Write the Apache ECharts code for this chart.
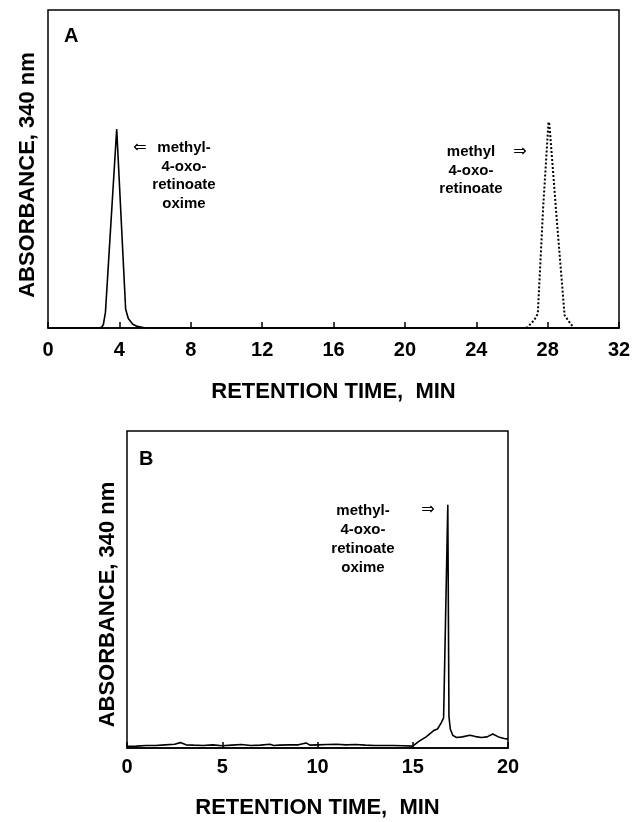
<!DOCTYPE html>
<html>
<head>
<meta charset="utf-8">
<script src="https://cdn.jsdelivr.net/npm/echarts@6/dist/echarts.min.js"></script>
<style>
html,body{margin:0;padding:0;background:#fff;}
#chart{width:636px;height:822px;}
</style>
</head>
<body>
<div id="chart"></div>
<script>
// Panel A: methyl-4-oxo-retinoate oxime (solid) and methyl 4-oxo-retinoate (dotted)
const timeA1 = [0, 1, 2, 2.8, 3.0, 3.1, 3.22, 3.85, 4.35, 4.5, 4.75, 5.0, 5.4, 6, 10, 20, 32];
const absA1  = [0, 0, 0, 0, 0.002, 0.01, 0.05, 0.626, 0.06, 0.03, 0.012, 0.005, 0.001, 0, 0, 0, 0];
const timeA2 = [26.8, 27.0, 27.25, 27.45, 27.75, 28.05, 28.1, 28.5, 28.95, 29.2, 29.4];
const absA2  = [0, 0.01, 0.025, 0.045, 0.38, 0.648, 0.64, 0.35, 0.04, 0.02, 0.005];
// Panel B
const timeB = [0,0.5,1,1.5,2,2.5,2.8,3.1,3.5,4,4.5,5,5.5,6,6.5,7,7.5,7.7,8,8.5,9,9.4,9.6,10,10.5,11,11.5,12,12.5,13,13.5,14,14.5,15,15.3,15.7,16.1,16.3,16.5,16.62,16.84,16.9,16.97,17.1,17.3,17.6,18.0,18.3,18.6,18.9,19.2,19.5,19.8,20];
const absB  = [0.005,0.006,0.008,0.008,0.01,0.012,0.017,0.01,0.009,0.008,0.01,0.007,0.009,0.011,0.008,0.009,0.012,0.008,0.009,0.01,0.01,0.016,0.009,0.01,0.011,0.012,0.01,0.011,0.009,0.008,0.008,0.008,0.007,0.006,0.02,0.035,0.055,0.06,0.08,0.095,0.767,0.1,0.06,0.04,0.033,0.035,0.04,0.036,0.033,0.035,0.044,0.035,0.03,0.028];

const xTitle = 'RETENTION TIME,  MIN';
const yTitle = 'ABSORBANCE, 340 nm';

const FONT = '"Liberation Sans", Arial, Helvetica, sans-serif';
const zip = (a, b) => a.map((v, i) => [v, b[i]]);

const chart = echarts.init(document.getElementById('chart'), null, {renderer: 'canvas'});

function xAxisCfg(gridIndex, max, interval, margin, nameGap) {
  return {
    type: 'value', gridIndex, min: 0, max, interval,
    name: xTitle, nameLocation: 'middle', nameGap,
    nameTextStyle: {fontFamily: FONT, fontWeight: 'bold', fontSize: 22, color: '#000'},
    axisLine: {show: true, onZero: false, lineStyle: {color: '#000', width: 1.5}},
    axisTick: {show: true, inside: true, length: 6, lineStyle: {color: '#000', width: 1.5}},
    axisLabel: {fontFamily: FONT, fontWeight: 'bold', fontSize: 20, color: '#000', margin},
    splitLine: {show: false}
  };
}
function yAxisCfg(gridIndex, nameGap, pad) {
  return {
    type: 'value', gridIndex, min: 0, max: 1,
    name: yTitle, nameLocation: 'middle', nameGap, nameRotate: 90,
    nameTextStyle: {fontFamily: FONT, fontWeight: 'bold', fontSize: 22, color: '#000', padding: pad},
    axisLine: {show: false}, axisTick: {show: false}, axisLabel: {show: false},
    splitLine: {show: false}
  };
}

const ARROW_FONT = '"DejaVu Sans", sans-serif';

const option = {
  backgroundColor: '#fff',
  animation: false,
  grid: [
    {left: 48, top: 10, width: 571, height: 318, show: true, borderColor: '#000', borderWidth: 1.5},
    {left: 127, top: 431, width: 381, height: 317, show: true, borderColor: '#000', borderWidth: 1.5}
  ],
  xAxis: [xAxisCfg(0, 32, 4, 12, 53), xAxisCfg(1, 20, 5, 9, 49)],
  yAxis: [yAxisCfg(0, 9, [0, 12, 0, 0]), yAxisCfg(1, 8, [0, 30, 0, 0])],
  series: [
    {type: 'line', xAxisIndex: 0, yAxisIndex: 0, data: zip(timeA1, absA1), showSymbol: false,
     lineStyle: {color: '#000', width: 1.6}},
    {type: 'line', xAxisIndex: 0, yAxisIndex: 0, data: zip(timeA2, absA2), showSymbol: false,
     lineStyle: {color: '#000', width: 2, type: 'dotted'}},
    {type: 'line', xAxisIndex: 1, yAxisIndex: 1, data: zip(timeB, absB), showSymbol: false,
     lineStyle: {color: '#000', width: 1.6}}
  ],
  graphic: [
    {type: 'text', left: 64, top: 26, style: {text: 'A', fontFamily: FONT, fontWeight: 'bold', fontSize: 20, fill: '#000'}},
    {type: 'text', left: 139, top: 449, style: {text: 'B', fontFamily: FONT, fontWeight: 'bold', fontSize: 20, fill: '#000'}},
    // Panel A left annotation
    {type: 'text', x: 140, y: 148, style: {text: '⇐', fontFamily: ARROW_FONT, fontSize: 16, fill: '#000', align: 'center', verticalAlign: 'middle'}},
    {type: 'text', x: 184, y: 139, style: {text: 'methyl-\n4-oxo-\nretinoate\noxime', fontFamily: FONT, fontWeight: 'bold', fontSize: 15, lineHeight: 18.5, fill: '#000', align: 'center', verticalAlign: 'top'}},
    // Panel A right annotation
    {type: 'text', x: 471, y: 143, style: {text: 'methyl\n4-oxo-\nretinoate', fontFamily: FONT, fontWeight: 'bold', fontSize: 15, lineHeight: 18.5, fill: '#000', align: 'center', verticalAlign: 'top'}},
    {type: 'text', x: 520, y: 152, style: {text: '⇒', fontFamily: ARROW_FONT, fontSize: 16, fill: '#000', align: 'center', verticalAlign: 'middle'}},
    // Panel B annotation
    {type: 'text', x: 363, y: 501, style: {text: 'methyl-\n4-oxo-\nretinoate\noxime', fontFamily: FONT, fontWeight: 'bold', fontSize: 15, lineHeight: 19, fill: '#000', align: 'center', verticalAlign: 'top'}},
    {type: 'text', x: 428, y: 510, style: {text: '⇒', fontFamily: ARROW_FONT, fontSize: 16, fill: '#000', align: 'center', verticalAlign: 'middle'}}
  ]
};
chart.setOption(option);
</script>
</body>
</html>
